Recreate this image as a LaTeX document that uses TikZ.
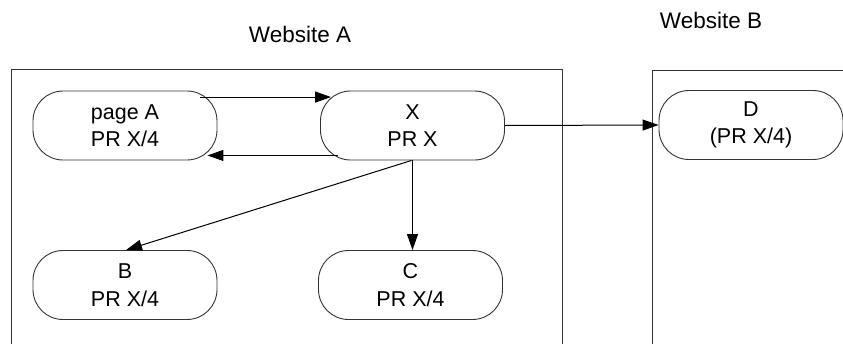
\documentclass[tikz,border=0pt]{standalone}
\usepackage{fontspec}
\setmainfont{Liberation Sans}
\usetikzlibrary{arrows.meta}
\tikzset{
  page/.style={draw=black!80, line width=0.9pt, rounded corners=30pt,
    minimum width=184pt, minimum height=69pt, inner sep=0pt,
    align=center, font=\fontsize{21.5}{27.5}\selectfont},
  site/.style={draw=black!80, line width=0.9pt},
  link/.style={draw=black, line width=1pt, -{Triangle[length=16pt,width=11pt]}},
  sitelabel/.style={font=\fontsize{22.5}{27}\selectfont, inner sep=0pt}
}
\begin{document}
\begin{tikzpicture}[x=1pt, y=-1pt]
  \useasboundingbox (0,0) rectangle (843,343);
  \begin{scope}
    \clip (0,0) rectangle (843,343);
    % website boundaries, open at the bottom
    \draw[site] (11,350) -- (11,69) -- (562,69) -- (562,350);
    \draw[site] (652,350) -- (652,70.5) -- (850,70.5);

    \node[sitelabel] (labA) at (300,34) {Website A};
    \node[sitelabel] (labB) at (711,20) {Website B};

    \node[page] (pA) at (125,125.5) {page A\\PR X/4};
    \node[page] (X)  at (412.5,125.5) {X\\PR X};
    \node[page] (B)  at (125,285) {B\\PR X/4};
    \node[page] (C)  at (410.5,285) {C\\PR X/4};
    \node[page] (D)  at (751,125) {D\\(PR X/4)};

    \draw[link] ([xshift=-17pt,yshift=-6.5pt]pA.north east) -- ([xshift=11pt,yshift=-6.5pt]X.north west);
    \draw[link] ([xshift=18pt,yshift=5pt]X.south west) -- ([xshift=-10pt,yshift=5pt]pA.south east);
    \draw[link] (X.east) -- (D.west);
    \draw[link] (X.south) -- (X.south |- C.north);
    \draw[link] ([xshift=-1pt]X.south) -- ([xshift=1pt]B.north);
  \end{scope}
\end{tikzpicture}
\end{document}
